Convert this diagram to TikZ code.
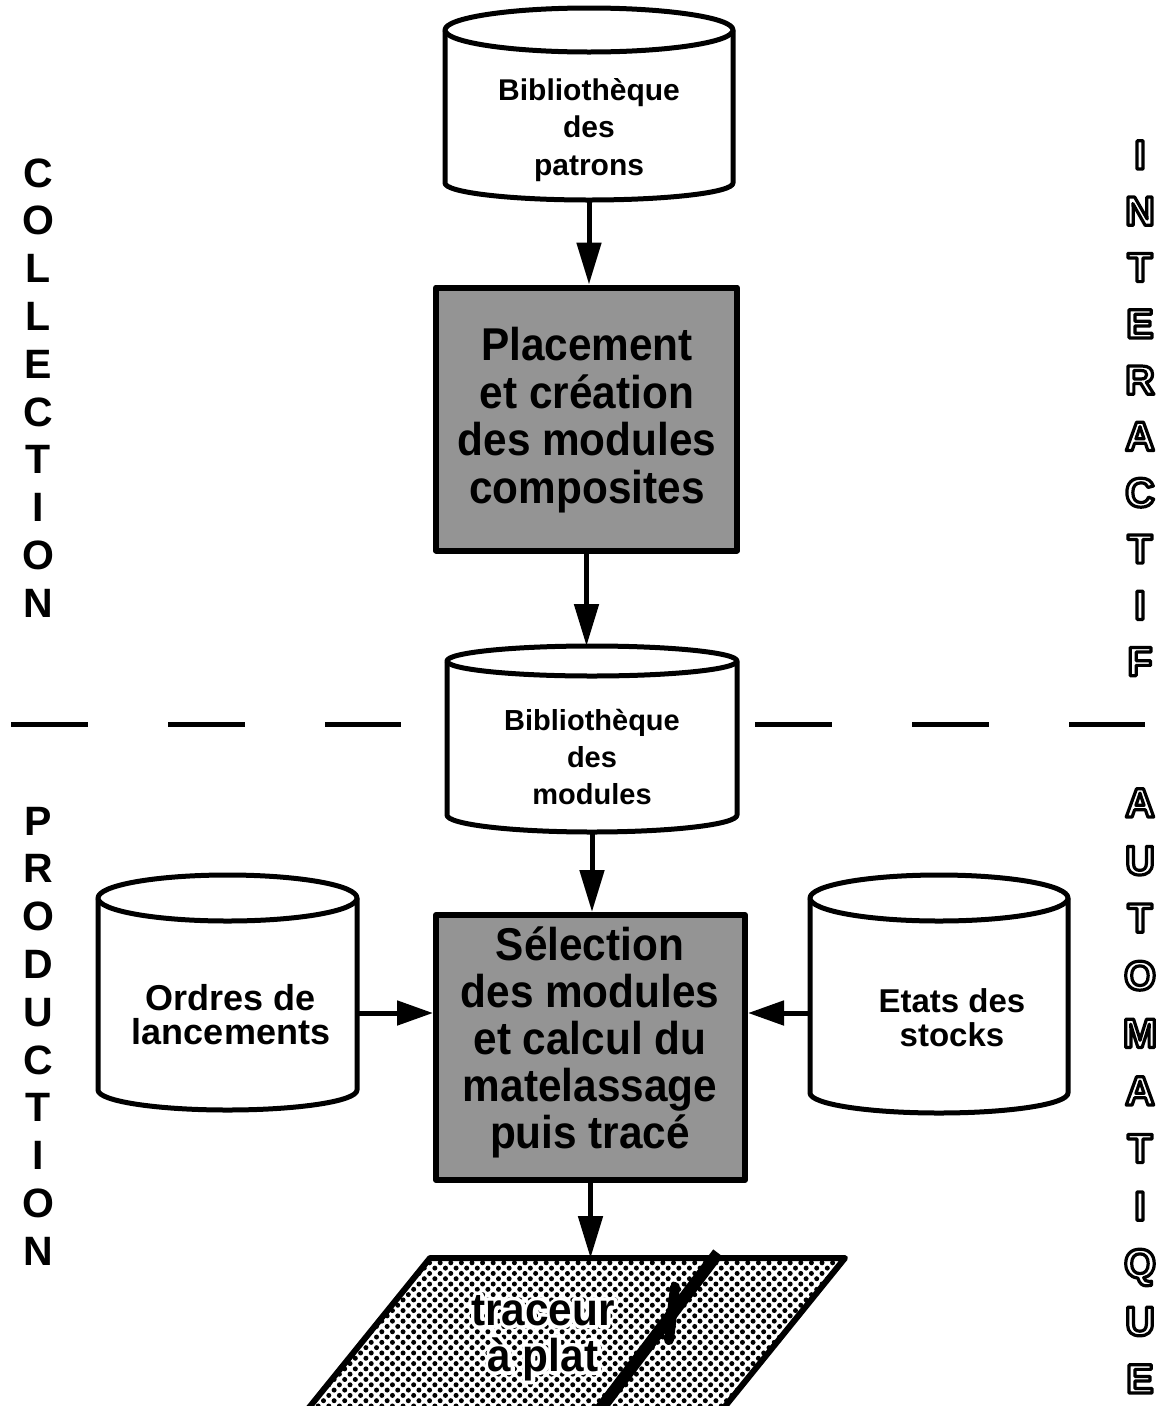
\documentclass[tikz,border=0pt]{standalone}
\usepackage{fontspec}
\setmainfont{Liberation Sans}
\newfontfamily\condsans[FakeStretch=0.92]{Liberation Sans}
\usetikzlibrary{arrows.meta,patterns.meta}
% white halo: a stroked white copy under the normal text
\newcommand\halo[2]{\rlap{\special{pdf:literal direct 1 Tr #1 w 1 J 1 j 1 1 1 RG}#2\special{pdf:literal direct 0 Tr 0 0 0 RG}}#2}
% hollow outlined letter
\newcommand\olet[1]{\special{pdf:literal direct 1 Tr 3.2 w 1 j 0 0 0 RG}#1\special{pdf:literal direct 0 Tr}}
\newcommand\drawcyl[6]{%
  \pgfmathsetmacro\cyr{(#2-#1)/2}%
  \filldraw[cylline] (#1,#3) -- (#1,#5) arc[start angle=180,end angle=0,x radius=\cyr,y radius=#6] -- (#2,#3) arc[start angle=0,end angle=-180,x radius=\cyr,y radius=#4] -- cycle;
  \draw[cylline] (#1,#3) arc[start angle=180,end angle=0,x radius=\cyr,y radius=#4];
}
\begin{document}
\begin{tikzpicture}[x=1pt,y=-1pt,line join=round,
  cylline/.style={line width=5pt,draw=black,fill=white},
  anchorbox/.style={inner sep=0pt,outer sep=0pt},
  cyltext/.style={inner sep=0pt,align=center,font=\bfseries\fontsize{30}{37.5}\selectfont},
  dbtext/.style={inner sep=0pt,align=center,font=\bfseries\fontsize{36}{34}\selectfont},
  procbox/.style={draw,line width=6pt,fill=black!42,inner sep=0pt},
  proctext/.style={inner sep=0pt,align=center,font=\condsans\bfseries\fontsize{46}{47.5}\selectfont},
  flow/.style={line width=5pt,-{Triangle[length=42pt,width=24pt]}},
  sideflow/.style={line width=5pt,-{Triangle[length=36pt,width=24pt]}},
  dashline/.style={line width=5pt,dash pattern=on 77pt off 80pt},
  sidelet/.style={inner sep=0pt,anchor=base,font=\bfseries\fontsize{41}{41}\selectfont},
]
\clip (0,0) rectangle (1162,1406);
\fill[white] (0,0) rectangle (1162,1406);

% dashed separation
\draw[dashline] (11,724) -- (401,724);
\draw[dashline] (755,724) -- (1145,724);

% cylinders
\drawcyl{445}{733}{30}{22}{183}{17}
\node[anchorbox,minimum width=288pt,minimum height=192pt] (cA) at (589,104) {};
\node[cyltext] (cAt) at (589,130) {Biblioth\`eque\\des\\patrons};

\drawcyl{447}{737}{661}{15}{815}{17}
\node[anchorbox,minimum width=290pt,minimum height=186pt] (cB) at (592,739) {};
\node[cyltext,font=\bfseries\fontsize{29}{37}\selectfont] (cBt) at (592,757) {Biblioth\`eque\\des\\modules};

\drawcyl{98}{357}{898}{23}{1090}{20}
\node[anchorbox,minimum width=259pt,minimum height=200pt] (cL) at (227.5,1013) {};
\node[dbtext] (cLt) at (231,1015) {Ordres de\\lancements};

\drawcyl{810}{1068}{898}{23}{1093}{20}
\node[anchorbox,minimum width=258pt,minimum height=200pt] (cR) at (939,1013) {};
\node[dbtext,font=\bfseries\fontsize{33}{34}\selectfont] (cRt) at (952,1018) {Etats des\\stocks};

% process boxes
\node[procbox,minimum width=301pt,minimum height=263pt] (bA) at (586.5,419) {};
\node[proctext] (bAt) at (587,420) {Placement\\et cr\'eation\\des modules\\composites};

\node[procbox,minimum width=309pt,minimum height=265pt] (bB) at (590.5,1047.5) {};
\node[proctext,font=\condsans\bfseries\fontsize{46}{47}\selectfont] (bBt) at (590,1042) {S\'election\\des modules\\et calcul du\\matelassage\\puis trac\'e};

% plotter
\draw[line width=6pt,pattern={Dots[radius=2.5pt,distance=7.5pt,angle=45]}] (430,1258) -- (845,1258) -- (714,1420) -- (299,1420) -- cycle;
\coordinate (plot) at (590.5,1258);
\draw[line width=12pt] (718,1253) -- (598,1412);
\draw[line width=10pt,line cap=round] (675,1287) -- (669,1340);
\node[proctext,font=\condsans\bfseries\fontsize{46}{46}\selectfont] (plotlabel) at (543,1338) {\halo{7}{traceur}\\\halo{7}{\`a plat}};

% connectors
\draw[flow] (cA.south) -- (cA.south |- bA.north);
\draw[flow] (bA.south) -- (bA.south |- cB.north);
\draw[flow] (cB.south) -- (cB.south |- bB.north);
\draw[flow] (bB.south) -- (plot);
\draw[sideflow] (cL.east) -- (cL.east -| bB.west);
\draw[sideflow] (cR.west) -- (cR.west -| bB.east);

% side words
\foreach \l [count=\i] in {C,O,L,L,E,C,T,I,O,N}
  \node[sidelet] (coll\i) at (38,{187+47.8*(\i-1)}) {\l};
\foreach \l [count=\i] in {P,R,O,D,U,C,T,I,O,N}
  \node[sidelet] (prod\i) at (38,{835+47.8*(\i-1)}) {\l};
\foreach \l [count=\i] in {I,N,T,E,R,A,C,T,I,F}
  \node[sidelet] (inter\i) at (1140,{169+56.3*(\i-1)}) {\olet{\l}};
\foreach \l [count=\i] in {A,U,T,O,M,A,T,I,Q,U,E}
  \node[sidelet] (auto\i) at (1140,{817+57.6*(\i-1)}) {\olet{\l}};
\end{tikzpicture}
\end{document}
